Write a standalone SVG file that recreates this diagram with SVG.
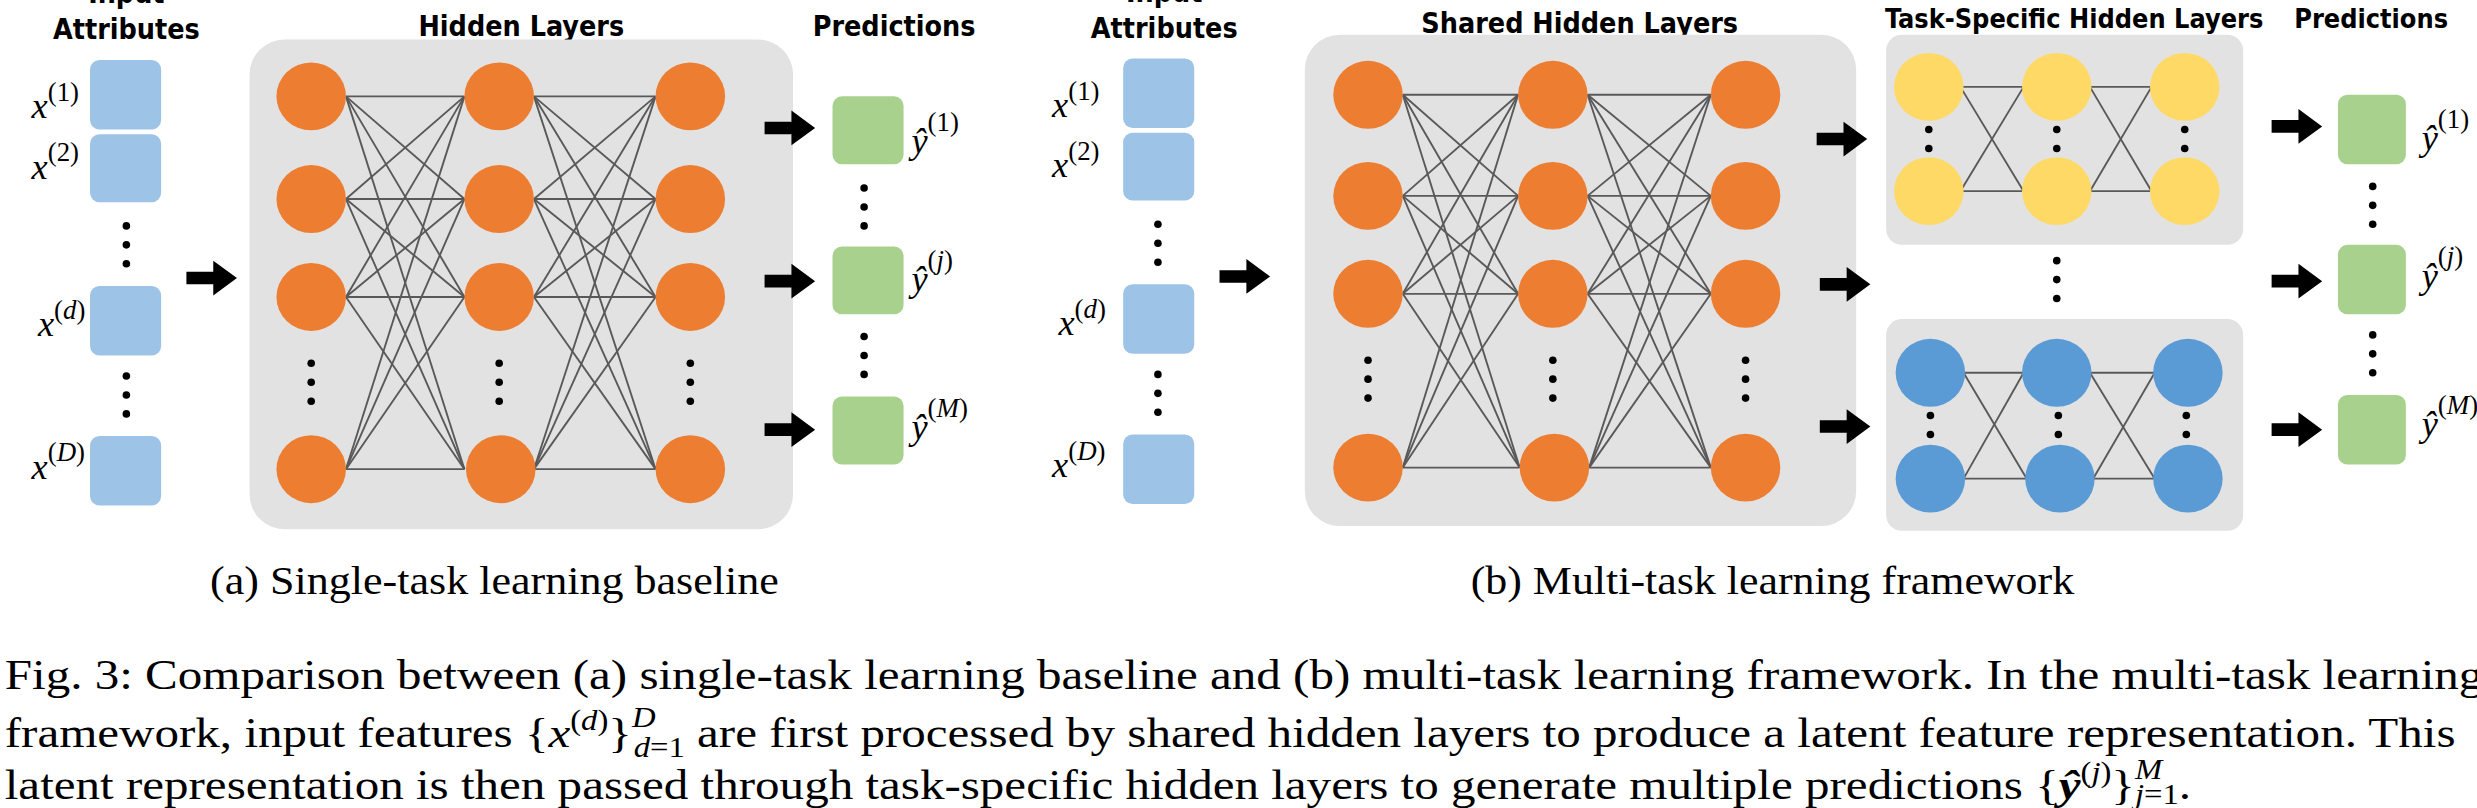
<svg xmlns="http://www.w3.org/2000/svg" xmlns:xlink="http://www.w3.org/1999/xlink" width="2477" height="808" viewBox="0 0 2477 808">
<style>
.t{font-family:"DejaVu Sans Condensed","DejaVu Sans",sans-serif;font-weight:bold;font-size:18px;fill:#000;text-anchor:middle}
.m{font-family:"Liberation Serif",serif;font-style:italic;font-size:23px;fill:#000}
.s{font-size:17px;font-style:normal}
.si{font-size:17px}
.cap{font-family:"Liberation Serif",serif;font-size:25px;fill:#000}
.fc{font-family:"Liberation Serif",serif;font-size:27px;fill:#000}
.panel{fill:#e2e2e2}
.in{fill:#9dc3e6}
.out{fill:#a9d18e}
.or{fill:#ed7d31}
.ye{fill:#ffd966}
.bl{fill:#5b9bd5}
.ln line{stroke:#595959;stroke-width:1.2}
.dot{fill:#000}
</style>
<defs>
<path id="ar" d="M0,-4 H17 V-11 L32,0 L17,11 V4 H0 Z" fill="#000"/>
<g id="d3"><circle cx="0" cy="0" r="2.4" class="dot"/><circle cx="0" cy="12" r="2.4" class="dot"/><circle cx="0" cy="24" r="2.4" class="dot"/></g>
<g id="d2"><circle cx="0" cy="0" r="2.4" class="dot"/><circle cx="0" cy="12" r="2.4" class="dot"/></g>
</defs>
<rect width="2477" height="808" fill="#fff"/>
<g transform="scale(1.5797)">
<!-- ===== Panel (a) ===== -->
<g id="a-titles">
<text class="t" x="80" y="2">Input</text>
<text class="t" x="80" y="25">Attributes</text>
<text class="t" x="330" y="23">Hidden Layers</text>
<text class="t" x="566" y="23">Predictions</text>
</g>
<g id="a-inputs">
<rect class="in" x="57" y="38" width="45" height="44" rx="6"/>
<rect class="in" x="57" y="85" width="45" height="43" rx="6"/>
<rect class="in" x="57" y="181" width="45" height="44" rx="6"/>
<rect class="in" x="57" y="276" width="45" height="44" rx="6"/>
<use xlink:href="#d3" x="80" y="143"/>
<use xlink:href="#d3" x="80" y="238"/>
<text class="m" x="20" y="75">x<tspan class="s" dy="-11">(1)</tspan></text>
<text class="m" x="20" y="113">x<tspan class="s" dy="-11">(2)</tspan></text>
<text class="m" x="24" y="213">x<tspan class="s" dy="-11">(</tspan><tspan class="si">d</tspan><tspan class="s">)</tspan></text>
<text class="m" x="20" y="303">x<tspan class="s" dy="-11">(</tspan><tspan class="si">D</tspan><tspan class="s">)</tspan></text>
</g>
<g id="a-hidden">
<rect class="panel" x="158" y="25" width="344" height="310" rx="22"/>
<g class="ln">
<line x1="219" y1="61" x2="294" y2="61"/><line x1="219" y1="61" x2="294" y2="126"/><line x1="219" y1="61" x2="294" y2="188"/><line x1="219" y1="61" x2="294" y2="297"/>
<line x1="219" y1="126" x2="294" y2="61"/><line x1="219" y1="126" x2="294" y2="126"/><line x1="219" y1="126" x2="294" y2="188"/><line x1="219" y1="126" x2="294" y2="297"/>
<line x1="219" y1="188" x2="294" y2="61"/><line x1="219" y1="188" x2="294" y2="126"/><line x1="219" y1="188" x2="294" y2="188"/><line x1="219" y1="188" x2="294" y2="297"/>
<line x1="219" y1="297" x2="294" y2="61"/><line x1="219" y1="297" x2="294" y2="126"/><line x1="219" y1="297" x2="294" y2="188"/><line x1="219" y1="297" x2="294" y2="297"/>
<line x1="338" y1="61" x2="415" y2="61"/><line x1="338" y1="61" x2="415" y2="126"/><line x1="338" y1="61" x2="415" y2="188"/><line x1="338" y1="61" x2="415" y2="297"/>
<line x1="338" y1="126" x2="415" y2="61"/><line x1="338" y1="126" x2="415" y2="126"/><line x1="338" y1="126" x2="415" y2="188"/><line x1="338" y1="126" x2="415" y2="297"/>
<line x1="338" y1="188" x2="415" y2="61"/><line x1="338" y1="188" x2="415" y2="126"/><line x1="338" y1="188" x2="415" y2="188"/><line x1="338" y1="188" x2="415" y2="297"/>
<line x1="338" y1="297" x2="415" y2="61"/><line x1="338" y1="297" x2="415" y2="126"/><line x1="338" y1="297" x2="415" y2="188"/><line x1="338" y1="297" x2="415" y2="297"/>
</g>
<g class="or">
<ellipse cx="197" cy="61" rx="22" ry="21.5"/><ellipse cx="197" cy="126" rx="22" ry="21.5"/><ellipse cx="197" cy="188" rx="22" ry="21.5"/><ellipse cx="197" cy="297" rx="22" ry="21.5"/>
<ellipse cx="316" cy="61" rx="22" ry="21.5"/><ellipse cx="316" cy="126" rx="22" ry="21.5"/><ellipse cx="316" cy="188" rx="22" ry="21.5"/><ellipse cx="317" cy="297" rx="22" ry="21.5"/>
<ellipse cx="437" cy="61" rx="22" ry="21.5"/><ellipse cx="437" cy="126" rx="22" ry="21.5"/><ellipse cx="437" cy="188" rx="22" ry="21.5"/><ellipse cx="437" cy="297" rx="22" ry="21.5"/>
</g>
<use xlink:href="#d3" x="197" y="230"/><use xlink:href="#d3" x="316" y="230"/><use xlink:href="#d3" x="437" y="230"/>
</g>
<g id="a-outputs">
<rect class="out" x="527" y="61" width="45" height="43" rx="6"/>
<rect class="out" x="527" y="156" width="45" height="43" rx="6"/>
<rect class="out" x="527" y="251" width="45" height="43" rx="6"/>
<use xlink:href="#d3" x="547" y="119"/>
<use xlink:href="#d3" x="547" y="213"/>
<text class="m" x="577" y="97">ŷ<tspan class="s" dy="-14">(1)</tspan></text>
<text class="m" x="577" y="184">ŷ<tspan class="s" dy="-14">(</tspan><tspan class="si">j</tspan><tspan class="s">)</tspan></text>
<text class="m" x="577" y="278">ŷ<tspan class="s" dy="-14">(</tspan><tspan class="si">M</tspan><tspan class="s">)</tspan></text>
</g>
<g id="a-arrows">
<use xlink:href="#ar" x="118" y="176"/>
<use xlink:href="#ar" x="484" y="81"/>
<use xlink:href="#ar" x="484" y="178"/>
<use xlink:href="#ar" x="484" y="272"/>
</g>
<text id="cap-a" class="cap" x="133" y="376" textLength="360" lengthAdjust="spacingAndGlyphs">(a) Single-task learning baseline</text>

<!-- ===== Panel (b) ===== -->
<g id="b-titles">
<text class="t" x="737" y="1">Input</text>
<text class="t" x="737" y="24">Attributes</text>
<text class="t" x="1000" y="21">Shared Hidden Layers</text>
<text class="t" x="1313" y="18" style="font-size:17px">Task-Specific Hidden Layers</text>
<text class="t" x="1501" y="18" style="font-size:17px">Predictions</text>
</g>
<g id="b-inputs">
<rect class="in" x="711" y="37" width="45" height="44" rx="6"/>
<rect class="in" x="711" y="84" width="45" height="43" rx="6"/>
<rect class="in" x="711" y="180" width="45" height="44" rx="6"/>
<rect class="in" x="711" y="275" width="45" height="44" rx="6"/>
<use xlink:href="#d3" x="733" y="142"/>
<use xlink:href="#d3" x="733" y="237"/>
<text class="m" x="666" y="74">x<tspan class="s" dy="-11">(1)</tspan></text>
<text class="m" x="666" y="112">x<tspan class="s" dy="-11">(2)</tspan></text>
<text class="m" x="670" y="212">x<tspan class="s" dy="-11">(</tspan><tspan class="si">d</tspan><tspan class="s">)</tspan></text>
<text class="m" x="666" y="302">x<tspan class="s" dy="-11">(</tspan><tspan class="si">D</tspan><tspan class="s">)</tspan></text>
</g>
<g id="b-shared">
<rect class="panel" x="826" y="22" width="349" height="311" rx="22"/>
<g class="ln">
<line x1="888" y1="60" x2="961" y2="60"/><line x1="888" y1="60" x2="961" y2="124"/><line x1="888" y1="60" x2="961" y2="186"/><line x1="888" y1="60" x2="962" y2="296"/>
<line x1="888" y1="124" x2="961" y2="60"/><line x1="888" y1="124" x2="961" y2="124"/><line x1="888" y1="124" x2="961" y2="186"/><line x1="888" y1="124" x2="962" y2="296"/>
<line x1="888" y1="186" x2="961" y2="60"/><line x1="888" y1="186" x2="961" y2="124"/><line x1="888" y1="186" x2="961" y2="186"/><line x1="888" y1="186" x2="962" y2="296"/>
<line x1="888" y1="296" x2="961" y2="60"/><line x1="888" y1="296" x2="961" y2="124"/><line x1="888" y1="296" x2="961" y2="186"/><line x1="888" y1="296" x2="962" y2="296"/>
<line x1="1005" y1="60" x2="1083" y2="60"/><line x1="1005" y1="60" x2="1083" y2="124"/><line x1="1005" y1="60" x2="1083" y2="186"/><line x1="1005" y1="60" x2="1083" y2="296"/>
<line x1="1005" y1="124" x2="1083" y2="60"/><line x1="1005" y1="124" x2="1083" y2="124"/><line x1="1005" y1="124" x2="1083" y2="186"/><line x1="1005" y1="124" x2="1083" y2="296"/>
<line x1="1005" y1="186" x2="1083" y2="60"/><line x1="1005" y1="186" x2="1083" y2="124"/><line x1="1005" y1="186" x2="1083" y2="186"/><line x1="1005" y1="186" x2="1083" y2="296"/>
<line x1="1006" y1="296" x2="1083" y2="60"/><line x1="1006" y1="296" x2="1083" y2="124"/><line x1="1006" y1="296" x2="1083" y2="186"/><line x1="1006" y1="296" x2="1083" y2="296"/>
</g>
<g class="or">
<ellipse cx="866" cy="60" rx="22" ry="21.5"/><ellipse cx="866" cy="124" rx="22" ry="21.5"/><ellipse cx="866" cy="186" rx="22" ry="21.5"/><ellipse cx="866" cy="296" rx="22" ry="21.5"/>
<ellipse cx="983" cy="60" rx="22" ry="21.5"/><ellipse cx="983" cy="124" rx="22" ry="21.5"/><ellipse cx="983" cy="186" rx="22" ry="21.5"/><ellipse cx="984" cy="296" rx="22" ry="21.5"/>
<ellipse cx="1105" cy="60" rx="22" ry="21.5"/><ellipse cx="1105" cy="124" rx="22" ry="21.5"/><ellipse cx="1105" cy="186" rx="22" ry="21.5"/><ellipse cx="1105" cy="296" rx="22" ry="21.5"/>
</g>
<use xlink:href="#d3" x="866" y="228"/><use xlink:href="#d3" x="983" y="228"/><use xlink:href="#d3" x="1105" y="228"/>
</g>
<g id="b-task1">
<rect class="panel" x="1194" y="22" width="226" height="133" rx="10"/>
<g class="ln">
<line x1="1241" y1="55" x2="1281" y2="55"/><line x1="1241" y1="121" x2="1281" y2="121"/><line x1="1241" y1="55" x2="1281" y2="121"/><line x1="1241" y1="121" x2="1281" y2="55"/>
<line x1="1323" y1="55" x2="1362" y2="55"/><line x1="1323" y1="121" x2="1362" y2="121"/><line x1="1323" y1="55" x2="1362" y2="121"/><line x1="1323" y1="121" x2="1362" y2="55"/>
</g>
<g class="ye">
<ellipse cx="1221" cy="55" rx="22" ry="21.5"/><ellipse cx="1221" cy="121" rx="22" ry="21.5"/>
<ellipse cx="1302" cy="55" rx="22" ry="21.5"/><ellipse cx="1302" cy="121" rx="22" ry="21.5"/>
<ellipse cx="1383" cy="55" rx="22" ry="21.5"/><ellipse cx="1383" cy="121" rx="22" ry="21.5"/>
</g>
<use xlink:href="#d2" x="1221" y="82"/><use xlink:href="#d2" x="1302" y="82"/><use xlink:href="#d2" x="1383" y="82"/>
</g>
<use xlink:href="#d3" x="1302" y="165"/>
<g id="b-taskM">
<rect class="panel" x="1194" y="202" width="226" height="134" rx="10"/>
<g class="ln">
<line x1="1243" y1="236" x2="1281" y2="236"/><line x1="1243" y1="303" x2="1283" y2="303"/><line x1="1243" y1="236" x2="1283" y2="303"/><line x1="1243" y1="303" x2="1281" y2="236"/>
<line x1="1323" y1="236" x2="1364" y2="236"/><line x1="1325" y1="303" x2="1364" y2="303"/><line x1="1323" y1="236" x2="1364" y2="303"/><line x1="1325" y1="303" x2="1364" y2="236"/>
</g>
<g class="bl">
<ellipse cx="1222" cy="236" rx="22" ry="21.5"/><ellipse cx="1222" cy="303" rx="22" ry="21.5"/>
<ellipse cx="1302" cy="236" rx="22" ry="21.5"/><ellipse cx="1304" cy="303" rx="22" ry="21.5"/>
<ellipse cx="1385" cy="236" rx="22" ry="21.5"/><ellipse cx="1385" cy="303" rx="22" ry="21.5"/>
</g>
<use xlink:href="#d2" x="1222" y="263"/><use xlink:href="#d2" x="1303" y="263"/><use xlink:href="#d2" x="1384" y="263"/>
</g>
<g id="b-outputs">
<rect class="out" x="1480" y="60" width="43" height="44" rx="6"/>
<rect class="out" x="1480" y="155" width="43" height="44" rx="6"/>
<rect class="out" x="1480" y="250" width="43" height="44" rx="6"/>
<use xlink:href="#d3" x="1502" y="118"/>
<use xlink:href="#d3" x="1502" y="212"/>
<text class="m" x="1533" y="95">ŷ<tspan class="s" dy="-14">(1)</tspan></text>
<text class="m" x="1533" y="182">ŷ<tspan class="s" dy="-14">(</tspan><tspan class="si">j</tspan><tspan class="s">)</tspan></text>
<text class="m" x="1533" y="276">ŷ<tspan class="s" dy="-14">(</tspan><tspan class="si">M</tspan><tspan class="s">)</tspan></text>
</g>
<g id="b-arrows">
<use xlink:href="#ar" x="772" y="175"/>
<use xlink:href="#ar" x="1150" y="88"/>
<use xlink:href="#ar" x="1152" y="180"/>
<use xlink:href="#ar" x="1152" y="270"/>
<use xlink:href="#ar" x="1438" y="80"/>
<use xlink:href="#ar" x="1438" y="178"/>
<use xlink:href="#ar" x="1438" y="272"/>
</g>
<text id="cap-b" class="cap" x="931" y="376" textLength="382" lengthAdjust="spacingAndGlyphs">(b) Multi-task learning framework</text>

<g id="fig-caption" transform="translate(3,0) scale(1.15,1)">
<text class="fc" x="0" y="436">Fig. 3: Comparison between (a) single-task learning baseline and (b) multi-task learning framework. In the multi-task learning</text>
<text class="fc" x="0" y="473">framework, input features {<tspan font-style="italic">x</tspan><tspan font-size="18" dy="-11">(</tspan><tspan font-size="18" font-style="italic">d</tspan><tspan font-size="18">)</tspan><tspan dy="11">}</tspan><tspan font-size="18" font-style="italic" dy="-13">D</tspan><tspan font-size="18" font-style="italic" dx="-12" dy="19">d</tspan><tspan font-size="18">=1</tspan><tspan dy="-6"> are first processed by shared hidden layers to produce a latent feature representation. This</tspan></text>
<text class="fc" x="0" y="506">latent representation is then passed through task-specific hidden layers to generate multiple predictions {<tspan font-weight="bold" font-style="italic">ŷ</tspan><tspan font-size="18" dy="-11">(</tspan><tspan font-size="18" font-style="italic">j</tspan><tspan font-size="18">)</tspan><tspan dy="11">}</tspan><tspan font-size="18" font-style="italic" dy="-13">M</tspan><tspan font-size="18" font-style="italic" dx="-15" dy="16">j</tspan><tspan font-size="18">=1</tspan><tspan dy="-3">.</tspan></text>
</g>
</g>
</svg>
